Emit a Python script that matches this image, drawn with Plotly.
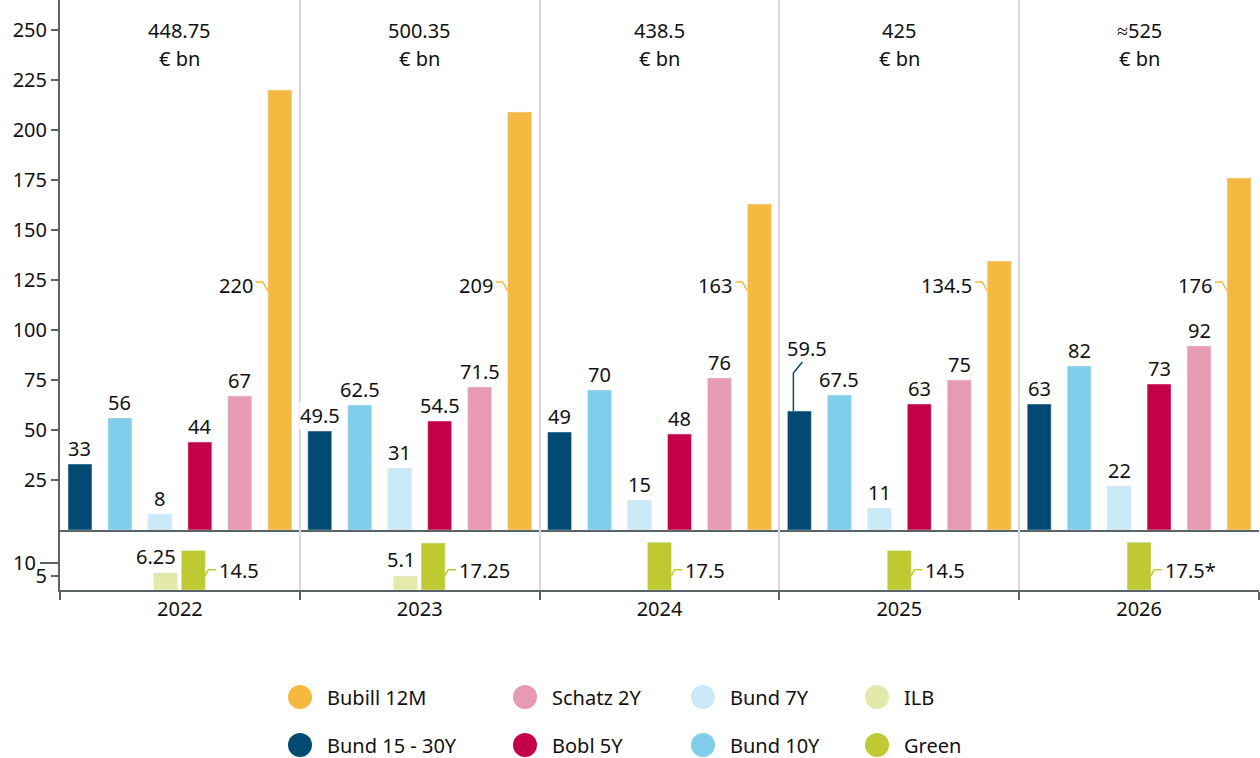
import plotly.graph_objects as go

# Federal issuance plan by instrument, € bn
years = ["2022", "2023", "2024", "2025", "2026"]
totals = ["448.75", "500.35", "438.5", "425", "≈525"]

bund_30y = [33, 49.5, 49, 59.5, 63]
bund_10y = [56, 62.5, 70, 67.5, 82]
bund_7y = [8, 31, 15, 11, 22]
bobl_5y = [44, 54.5, 48, 63, 73]
schatz_2y = [67, 71.5, 76, 75, 92]
bubill_12m = [220, 209, 163, 134.5, 176]
ilb = [6.25, 5.1, None, None, None]
green = [14.5, 17.25, 17.5, 14.5, 17.5]
green_text = ["14.5", "17.25", "17.5", "14.5", "17.5*"]

top_series = [
    ("Bund 15 - 30Y", bund_30y, "#004a73"),
    ("Bund 10Y", bund_10y, "#80cdec"),
    ("Bund 7Y", bund_7y, "#cce9f7"),
    ("Bobl 5Y", bobl_5y, "#c40049"),
    ("Schatz 2Y", schatz_2y, "#e69bb3"),
    ("Bubill 12M", bubill_12m, "#f5b942"),
]
colors = {name: c for name, _, c in top_series}
colors["ILB"] = "#e3e9a9"
colors["Green"] = "#bfca32"

legend_rows = [["Bubill 12M", "Schatz 2Y", "Bund 7Y", "ILB"],
               ["Bund 15 - 30Y", "Bobl 5Y", "Bund 10Y", "Green"]]

FONT = "Noto Sans"
FS = 20
AXIS = "#5a6466"
GRID = "#d9d9d9"
W, H = 1260, 758
L, R, T, B = 60, 1, 0, 168
CAT_PX = (W - L - R) / len(years)
px = 1 / CAT_PX  # one pixel in category units
n_top = len(top_series)
bar_w = 0.1

fig = go.Figure()

for name, vals, color in top_series:
    fig.add_trace(go.Bar(x=years, y=vals, name=name, marker_color=color,
                         xaxis="x", yaxis="y", showlegend=False))

ilb_offset = [-0.11 if v is not None else 0 for v in ilb]
green_offset = [0.006 if v is not None else -bar_w / 2 for v in ilb]
fig.add_trace(go.Bar(x=years, y=ilb, name="ILB", marker_color=colors["ILB"],
                     width=bar_w, offset=ilb_offset, xaxis="x2", yaxis="y2", showlegend=False))
fig.add_trace(go.Bar(x=years, y=green, name="Green", marker_color=colors["Green"],
                     width=bar_w, offset=green_offset, xaxis="x2", yaxis="y2", showlegend=False))
# empty trace so the overlaid axis (long "10" tick) gets drawn
fig.add_trace(go.Scatter(x=[years[0]], y=[None], xaxis="x2", yaxis="y3",
                         showlegend=False, hoverinfo="skip"))

ann = []
shapes = []
lab_font = dict(family=FONT, size=FS, color="#111111")

for i, yr in enumerate(years):
    # totals on top
    ann.append(dict(x=i, y=250, xref="x", yref="y", text=totals[i], showarrow=False,
                    font=lab_font, yanchor="middle"))
    ann.append(dict(x=i, y=236, xref="x", yref="y", text="€ bn", showarrow=False,
                    font=lab_font, yanchor="middle"))
    for k, (name, vals, color) in enumerate(top_series):
        v = vals[i]
        cx = i + (k - (n_top - 1) / 2) / n_top
        txt = f"{v:g}"
        if name == "Bubill 12M":
            left = cx - bar_w / 2
            ann.append(dict(x=left - 14 * px, y=122.5, xref="x", yref="y", text=txt,
                            showarrow=False, font=lab_font, xanchor="right",
                            yanchor="middle", bgcolor="white", borderpad=0))
            shapes.append(dict(type="path", xref="x", yref="y",
                               path=f"M {left - 12 * px} 124 L {left - 5 * px} 124 L {left} 119.5",
                               line=dict(color=color, width=1.5)))
        elif name == "Bund 15 - 30Y" and yr == "2025":
            lx = cx - bar_w / 2 + 6 * px
            shapes.append(dict(type="path", xref="x", yref="y",
                               path=f"M {lx} {v} L {lx} 78.5 L {lx + 9 * px} 84",
                               line=dict(color=color, width=1.5)))
            ann.append(dict(x=cx + 8 * px, y=91, xref="x", yref="y", text=txt,
                            showarrow=False, font=lab_font, yanchor="middle"))
        else:
            ann.append(dict(x=cx, y=v, xref="x", yref="y", text=txt, showarrow=False,
                            font=lab_font, yanchor="bottom", yshift=1,
                            bgcolor="white", borderpad=0))
    # bottom panel labels
    if ilb[i] is not None:
        ann.append(dict(x=i + ilb_offset[i] + bar_w, y=ilb[i], xref="x2", yref="y2",
                        text=f"{ilb[i]:g}", showarrow=False, font=lab_font,
                        xanchor="right", yanchor="bottom", yshift=1))
    right = i + green_offset[i] + bar_w
    shapes.append(dict(type="path", xref="x2", yref="y2",
                       path=f"M {right} 5.3 L {right + 3 * px} 7.4 L {right + 11 * px} 7.4",
                       line=dict(color=colors["Green"], width=1.5)))
    ann.append(dict(x=right + 12 * px, y=7.3, xref="x2", yref="y2", text=green_text[i],
                    showarrow=False, font=lab_font, xanchor="left", yanchor="middle"))

# legend drawn as circles + text below the plot
plot_w = W - L - R
plot_h = H - T - B
col_px = [300, 525, 703, 877]
row_px = [697, 745]
for r, row in enumerate(legend_rows):
    for c, name in enumerate(row):
        xp = (col_px[c] - L) / plot_w
        yp = (H - B - row_px[r]) / plot_h
        shapes.append(dict(type="circle", xref="paper", yref="paper",
                           xsizemode="pixel", ysizemode="pixel", xanchor=xp, yanchor=yp,
                           x0=-12, x1=12, y0=-12, y1=12,
                           fillcolor=colors[name], line=dict(width=0)))
        ann.append(dict(x=xp + 25 / plot_w, y=yp, xref="paper", yref="paper", text=name,
                        showarrow=False, xanchor="left", yanchor="middle",
                        font=dict(family=FONT, size=FS, color="#111111")))

split = 60 / plot_h

fig.update_layout(
    width=W, height=H,
    margin=dict(l=L, r=R, t=T, b=B),
    paper_bgcolor="white", plot_bgcolor="white",
    barmode="group", bargap=0, bargroupgap=0.4,
    font=dict(family=FONT, size=FS, color="#111111"),
    showlegend=False,
    annotations=ann, shapes=shapes,
    xaxis=dict(domain=[0, 1], anchor="y", type="category", tickson="boundaries",
               showgrid=True, gridcolor=GRID, gridwidth=1.5, showline=True,
               linecolor=AXIS, linewidth=2, showticklabels=False, ticks="",
               matches="x2"),
    xaxis2=dict(domain=[0, 1], anchor="y2", type="category", tickson="boundaries",
                showgrid=True, gridcolor=GRID, gridwidth=1.5, showline=True,
                linecolor=AXIS, linewidth=2, ticks="outside", ticklen=8,
                tickwidth=2, tickcolor=AXIS, tickfont=dict(size=FS)),
    yaxis=dict(domain=[split, 1], anchor="x", range=[0, 265],
               tickvals=list(range(25, 251, 25)), showgrid=False, zeroline=False,
               showline=True, linecolor=AXIS, linewidth=2, ticks="outside",
               ticklen=7, tickwidth=2, tickcolor=AXIS, tickfont=dict(size=FS)),
    # bottom panel: 5 with a short tick, 10 with a long one (overlaid axis)
    yaxis2=dict(domain=[0, split], anchor="x2", range=[0, 22], tickvals=[5],
                showgrid=False, zeroline=False, showline=True, linecolor=AXIS,
                linewidth=2, ticks="outside", ticklen=7, tickwidth=2,
                tickcolor=AXIS, tickfont=dict(size=FS)),
    yaxis3=dict(anchor="x2", overlaying="y2", range=[0, 22],
                tickvals=[10], showgrid=False, zeroline=False, showline=False,
                ticks="outside", ticklen=19, tickwidth=2, tickcolor=AXIS,
                tickfont=dict(size=FS)),
)

fig.write_html("out.html", config={"displayModeBar": False},
               post_script="document.body.style.margin='0';")
